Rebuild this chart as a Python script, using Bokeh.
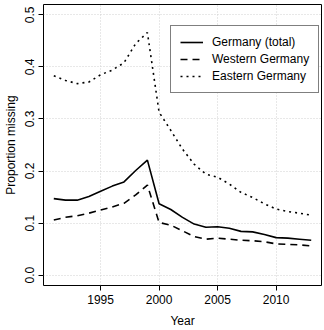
from bokeh.plotting import figure
from bokeh.models import FixedTicker, Range1d, Legend, LegendItem
from bokeh.embed import file_html
from bokeh.resources import INLINE

years = list(range(1991, 2014))
total = [0.147, 0.144, 0.144, 0.151, 0.161, 0.171, 0.179, 0.201, 0.221,
         0.137, 0.126, 0.111, 0.098, 0.092, 0.093, 0.090, 0.084, 0.083,
         0.078, 0.072, 0.071, 0.069, 0.067]
western = [0.106, 0.111, 0.114, 0.119, 0.125, 0.131, 0.138, 0.154, 0.173,
           0.101, 0.096, 0.085, 0.074, 0.069, 0.071, 0.069, 0.067, 0.066,
           0.064, 0.060, 0.059, 0.058, 0.056]
eastern = [0.383, 0.374, 0.368, 0.371, 0.385, 0.394, 0.408, 0.445, 0.466,
           0.313, 0.278, 0.242, 0.213, 0.194, 0.188, 0.175, 0.159, 0.149,
           0.137, 0.127, 0.122, 0.119, 0.115]
x_ticks = [1995, 2000, 2005, 2010]
y_ticks = [0.0, 0.1, 0.2, 0.3, 0.4, 0.5]
series_names = ["Germany (total)", "Western Germany", "Eastern Germany"]

FONT = "Liberation Sans"

p = figure(width=324, height=330, output_backend="svg", toolbar_location=None,
           x_range=Range1d(1990.12, 2013.88), y_range=Range1d(-0.02, 0.52),
           min_border_left=41, min_border_right=3, min_border_top=4, min_border_bottom=43)
p.background_fill_color = "white"
p.border_fill_color = "white"
p.outline_line_color = "black"
p.outline_line_width = 1

r1 = p.line(years, total, line_color="black", line_width=1.6)
r2 = p.line(years, western, line_color="black", line_width=1.6, line_dash="7 5")
r3 = p.line(years, eastern, line_color="black", line_width=1.6, line_dash="2 4")

p.xaxis.ticker = FixedTicker(ticks=x_ticks)
p.yaxis.ticker = FixedTicker(ticks=y_ticks)
p.yaxis.major_label_overrides = {v: f"{v:.1f}" for v in y_ticks}
p.xaxis.major_label_overrides = {v: str(v) for v in x_ticks}

for ax in (p.xaxis[0], p.yaxis[0]):
    ax.axis_line_color = None
    ax.major_tick_line_color = "black"
    ax.major_tick_out = 5
    ax.major_tick_in = 0
    ax.minor_tick_line_color = None
    ax.major_label_text_font = FONT
    ax.major_label_text_font_size = "12px"
    ax.major_label_text_color = "black"
    ax.axis_label_text_font = FONT
    ax.axis_label_text_font_size = "12px"
    ax.axis_label_text_font_style = "normal"
    ax.axis_label_text_color = "black"

p.xaxis.axis_label = "Year"
p.yaxis.axis_label = "Proportion missing"
p.yaxis.major_label_orientation = "vertical"
p.xaxis.major_label_standoff = 4
p.xaxis.axis_label_standoff = 7
p.yaxis.major_label_standoff = 4
p.yaxis.axis_label_standoff = 5

for g in (p.xgrid[0], p.ygrid[0]):
    g.grid_line_color = "#d0d0d0"
    g.grid_line_dash = "1 2"
    g.grid_line_width = 1

legend = Legend(items=[LegendItem(label=series_names[0], renderers=[r1]),
                       LegendItem(label=series_names[1], renderers=[r2]),
                       LegendItem(label=series_names[2], renderers=[r3])],
                location=(127, 192))
legend.label_text_font = FONT
legend.label_text_font_size = "12px"
legend.label_text_color = "black"
legend.border_line_color = "black"
legend.border_line_width = 1
legend.background_fill_alpha = 1
legend.glyph_width = 23
legend.glyph_height = 14
legend.label_height = 14
legend.spacing = 3
legend.padding = 9
legend.margin = 0
legend.label_standoff = 9
p.add_layout(legend, "center")

open("out.html", "w").write(file_html(p, INLINE))
